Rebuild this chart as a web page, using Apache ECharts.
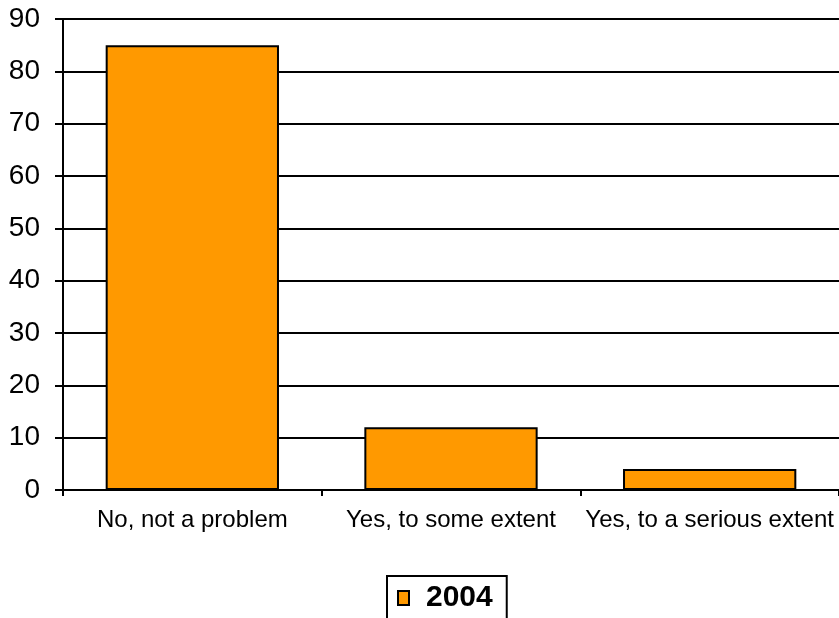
<!DOCTYPE html>
<html>
<head>
<meta charset="utf-8">
<script src="https://cdn.jsdelivr.net/npm/echarts@6/dist/echarts.min.js"></script>
<style>
  html, body { margin: 0; padding: 0; background: #fff; }
  #chart { width: 839px; height: 618px; }
</style>
</head>
<body>
<div id="chart"></div>
<script>
// Responses to the survey question, percentage share
const categories = ['No, not a problem', 'Yes, to some extent', 'Yes, to a serious extent'];
const seriesName = '2004';
const values = [85, 12, 4];
const yTicks = { min: 0, max: 90, interval: 10 };

const FONT = 'Liberation Sans, Arial, sans-serif';

const chart = echarts.init(document.getElementById('chart'), null, { renderer: 'canvas' });
chart.setOption({
  animation: false,
  textStyle: { fontFamily: FONT },
  grid: { left: 63, right: 0, top: 19, bottom: 128, containLabel: false },
  xAxis: {
    type: 'category',
    data: categories,
    axisLine: { lineStyle: { color: '#000', width: 2 } },
    axisTick: { show: true, interval: 0, length: 6, inside: false, lineStyle: { color: '#000', width: 2 } },
    axisLabel: { color: '#000', fontSize: 24, margin: 18, interval: 0, hideOverlap: false, fontFamily: FONT },
    splitLine: { show: false }
  },
  yAxis: {
    type: 'value',
    min: yTicks.min, max: yTicks.max, interval: yTicks.interval,
    axisLine: { show: true, lineStyle: { color: '#000', width: 2 } },
    axisTick: { show: true, length: 8, lineStyle: { color: '#000', width: 2 } },
    axisLabel: { color: '#000', fontSize: 28, margin: 23, fontFamily: FONT },
    splitLine: { show: true, lineStyle: { color: '#000', width: 2 } }
  },
  legend: {
    top: 576,
    left: 387,
    data: [seriesName],
    icon: 'rect',
    itemWidth: 11,
    itemHeight: 14,
    itemGap: 6,
    padding: [7, 14, 20, 10],
    borderColor: '#000',
    borderWidth: 2,
    textStyle: { color: '#000', fontSize: 30, fontWeight: 'bold', fontFamily: FONT, padding: [0, 0, 0, 12] }
  },
  series: [{
    name: seriesName,
    type: 'bar',
    data: values,
    barWidth: '67%',
    itemStyle: { color: '#FF9900', borderColor: '#000', borderWidth: 2 }
  }]
});
</script>
</body>
</html>
